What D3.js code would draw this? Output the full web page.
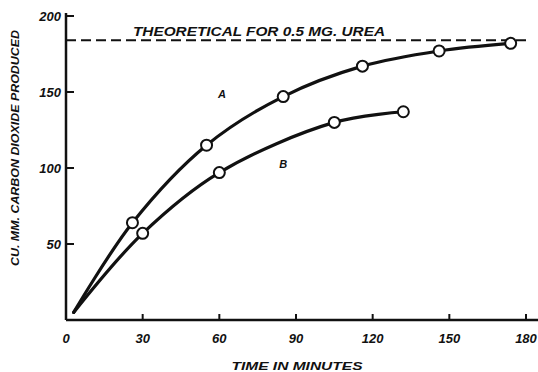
<!DOCTYPE html>
<html>
<head>
<meta charset="utf-8">
<script src="https://cdn.jsdelivr.net/npm/d3@7"></script>
<style>
  body { margin: 0; background: #fff; }
  text { font-family: "Liberation Sans", Arial, sans-serif; font-style: italic; font-weight: bold; fill: #111; }
</style>
</head>
<body>
<svg id="chart" width="538" height="372"></svg>
<script>
// curve A (first point is where the curve starts, no circle)
var timeA = [3, 26, 55, 85, 116, 146, 174];
var co2A  = [5, 64, 115, 147, 167, 177, 182];
// curve B
var timeB = [3, 30, 60, 105, 132];
var co2B  = [5, 57, 97, 130, 137];
var theoretical = 184;
var xTicks = [0, 30, 60, 90, 120, 150, 180];
var yTicks = [50, 100, 150, 200];

var svg = d3.select("#chart");
var ink = "#111";

var x = d3.scaleLinear().domain([0, 180]).range([66, 526]);
var y = d3.scaleLinear().domain([0, 200]).range([320, 16]);

var g = svg.append("g");

// axes
g.append("line")
    .attr("x1", x(0)).attr("x2", 538)
    .attr("y1", y(0)).attr("y2", y(0))
    .style("stroke", ink).style("stroke-width", 2.5);
g.append("line")
    .attr("x1", x(0)).attr("x2", x(0))
    .attr("y1", y(0)).attr("y2", y(200) - 3)
    .style("stroke", ink).style("stroke-width", 2.5);

g.selectAll("line.xtick")
  .data(xTicks.filter(function(d) { return d > 0; }))
  .enter().append("line")
    .attr("class", "xtick")
    .attr("x1", function(d) { return x(d); }).attr("x2", function(d) { return x(d); })
    .attr("y1", y(0)).attr("y2", y(0) - 6)
    .style("stroke", ink).style("stroke-width", 2);

g.selectAll("line.ytick")
  .data(yTicks)
  .enter().append("line")
    .attr("class", "ytick")
    .attr("x1", x(0)).attr("x2", x(0) + 8)
    .attr("y1", function(d) { return y(d); }).attr("y2", function(d) { return y(d); })
    .style("stroke", ink).style("stroke-width", 2);

g.selectAll("text.xlab")
  .data(xTicks)
  .enter().append("text")
    .attr("class", "xlab")
    .attr("x", function(d) { return x(d); })
    .attr("y", 343)
    .attr("text-anchor", "middle")
    .style("font-size", "13px")
    .text(function(d) { return d; });

g.selectAll("text.ylab")
  .data(yTicks)
  .enter().append("text")
    .attr("class", "ylab")
    .attr("x", 61)
    .attr("y", function(d) { return y(d) + 5; })
    .attr("text-anchor", "end")
    .style("font-size", "13px")
    .text(function(d) { return d; });

// axis titles
g.append("text")
    .attr("x", 297).attr("y", 370)
    .attr("text-anchor", "middle")
    .attr("textLength", 131).attr("lengthAdjust", "spacingAndGlyphs")
    .style("font-size", "11px")
    .text("TIME IN MINUTES");

g.append("text")
    .attr("transform", "translate(19,148) rotate(-90)")
    .attr("text-anchor", "middle")
    .attr("textLength", 236).attr("lengthAdjust", "spacingAndGlyphs")
    .style("font-size", "11px")
    .text("CU. MM. CARBON DIOXIDE PRODUCED");

// theoretical line
g.append("line")
    .attr("x1", x(0)).attr("x2", 530)
    .attr("y1", y(theoretical)).attr("y2", y(theoretical))
    .style("stroke", ink).style("stroke-width", 2)
    .style("stroke-dasharray", "10,5");

g.append("text")
    .attr("x", 133).attr("y", y(theoretical) - 4)
    .attr("textLength", 252).attr("lengthAdjust", "spacingAndGlyphs")
    .style("font-size", "12px")
    .text("THEORETICAL  FOR  0.5  MG.  UREA");

// curves
var series = [
  { name: "A", pts: timeA.map(function(t, i) { return [t, co2A[i]]; }), lx: 61, ly: 146 },
  { name: "B", pts: timeB.map(function(t, i) { return [t, co2B[i]]; }), lx: 85, ly: 100 }
];

var line = d3.line()
    .x(function(d) { return x(d[0]); })
    .y(function(d) { return y(d[1]); })
    .curve(d3.curveCatmullRom.alpha(0.5));

series.forEach(function(s) {
  g.append("path")
      .attr("d", line(s.pts))
      .style("fill", "none")
      .style("stroke", ink)
      .style("stroke-width", 3.2)
      .style("stroke-linecap", "round");

  g.selectAll("circle.pt" + s.name)
    .data(s.pts.slice(1))
    .enter().append("circle")
      .attr("class", "pt" + s.name)
      .attr("cx", function(d) { return x(d[0]); })
      .attr("cy", function(d) { return y(d[1]); })
      .attr("r", 5.5)
      .style("fill", "#fff")
      .style("stroke", ink)
      .style("stroke-width", 2);

  g.append("text")
      .attr("x", x(s.lx)).attr("y", y(s.ly))
      .attr("text-anchor", "middle")
      .style("font-size", "11px")
      .text(s.name);
});
</script>
</body>
</html>
